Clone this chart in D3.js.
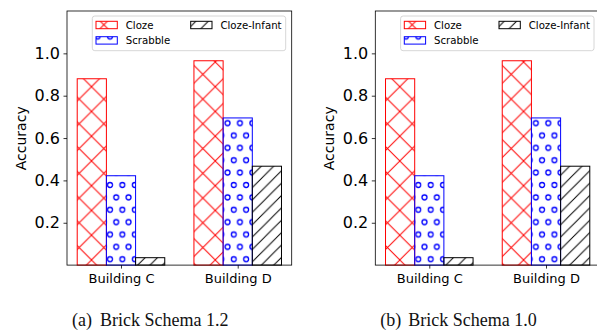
<!DOCTYPE html>
<html>
<head>
<meta charset="utf-8">
<script src="https://cdn.jsdelivr.net/npm/d3@7"></script>
<style>
  body { margin: 0; background: #fff; }
  svg { display: block; }
</style>
</head>
<body>
<script>
// categories and series
var buildings = ["Building C", "Building D"];
var seriesNames = ["Cloze", "Scrabble", "Cloze-Infant"];
// panel (a) Brick Schema 1.2
var clozeA = [0.880, 0.965];
var scrabbleA = [0.422, 0.695];
var infantA = [0.035, 0.467];
// panel (b) Brick Schema 1.0
var clozeB = [0.880, 0.965];
var scrabbleB = [0.422, 0.695];
var infantB = [0.035, 0.467];
var yTicks = [0.2, 0.4, 0.6, 0.8, 1.0];
var captions = [["(a)", "Brick Schema 1.2"], ["(b)", "Brick Schema 1.0"]];

var W = 597, H = 331;
var svg = d3.select("body").append("svg")
  .attr("width", W).attr("height", H);

var defs = svg.append("defs");
var d = 24.75; // hatch spacing

// 'x' hatch (Cloze)
var pc = defs.append("pattern").attr("id", "hx")
  .attr("patternUnits", "userSpaceOnUse")
  .attr("width", d).attr("height", d)
  .attr("x", 17.25).attr("y", 12.45);
pc.append("path")
  .attr("d", "M-1,-1L" + (d + 1) + "," + (d + 1) + "M-1," + (d + 1) + "L" + (d + 1) + ",-1")
  .attr("stroke", "#ff0000").attr("stroke-width", 1).attr("fill", "none");

// 'o' hatch (Scrabble)
var pd = defs.append("pattern").attr("id", "ho")
  .attr("patternUnits", "userSpaceOnUse")
  .attr("width", d / 2).attr("height", d)
  .attr("x", 11).attr("y", 11.75);
[[0, 0], [d / 2, 0], [0, d], [d / 2, d], [d / 4, d / 2]].forEach(function(p) {
  pd.append("circle").attr("cx", p[0]).attr("cy", p[1]).attr("r", 2.45)
    .attr("fill", "none").attr("stroke", "#0000ff").attr("stroke-width", 1.3);
});

// '//' hatch (Cloze-Infant)
var s = d / 2;
var ps = defs.append("pattern").attr("id", "hs")
  .attr("patternUnits", "userSpaceOnUse")
  .attr("width", s).attr("height", s)
  .attr("x", 6.75).attr("y", 0);
ps.append("path")
  .attr("d", "M0," + s + "L" + s + ",0M-1,1L1,-1M" + (s - 1) + "," + (s + 1) + "L" + (s + 1) + "," + (s - 1))
  .attr("stroke", "#000").attr("stroke-width", 1).attr("fill", "none");

var fills = ["url(#hx)", "url(#ho)", "url(#hs)"];
var edges = ["#ff0000", "#0000ff", "#000000"];

var plotL = 67, plotR = 291.7, plotT = 11, plotB = 265.1;
var barW = 0.25;

var x = d3.scaleLinear().domain([-0.4625, 1.4625]).range([plotL, plotR]);
var y = d3.scaleLinear().domain([0, 1.2]).range([plotB, plotT]);

function drawPanel(offset, series, cap) {
  var g = svg.append("g").attr("transform", "translate(" + offset + ",0)");

  // bars
  series.forEach(function(vals, si) {
    g.selectAll(".bar" + si)
      .data(vals)
      .enter()
      .append("rect")
      .attr("class", "bar" + si)
      .attr("x", function(v, i) { return x(i + (si - 1) * barW - barW / 2); })
      .attr("width", function() { return x(barW) - x(0); })
      .attr("y", function(v) { return y(v); })
      .attr("height", function(v) { return y(0) - y(v); })
      .attr("fill", fills[si])
      .attr("stroke", edges[si])
      .attr("stroke-width", 1);
  });

  // y axis
  var ya = g.append("g").attr("transform", "translate(" + plotL + ",0)")
    .call(d3.axisLeft(y).tickValues(yTicks).tickFormat(d3.format(".1f"))
      .tickSizeInner(3.5).tickSizeOuter(0).tickPadding(3.5));
  ya.select(".domain").remove();
  ya.selectAll("text").attr("font-family", "DejaVu Sans").attr("font-size", 16).attr("fill", "#000");
  ya.selectAll("line").attr("stroke", "#000").attr("stroke-width", 0.8);

  // x axis
  var xa = g.append("g").attr("transform", "translate(0," + plotB + ")")
    .call(d3.axisBottom(x).tickValues([0, 1]).tickFormat(function(v) { return buildings[v]; })
      .tickSizeInner(3.5).tickSizeOuter(0).tickPadding(4.8));
  xa.select(".domain").remove();
  xa.selectAll("text").attr("font-family", "DejaVu Sans").attr("font-size", 13).attr("fill", "#000");
  xa.selectAll("line").attr("stroke", "#000").attr("stroke-width", 0.8);

  // frame
  g.append("rect").attr("x", plotL).attr("y", plotT)
    .attr("width", plotR - plotL).attr("height", plotB - plotT)
    .attr("fill", "none").attr("stroke", "#000").attr("stroke-width", 0.8);

  // y label
  g.append("text")
    .attr("transform", "translate(26,138.3) rotate(-90)")
    .attr("text-anchor", "middle")
    .attr("font-family", "DejaVu Sans").attr("font-size", 14)
    .text("Accuracy");

  // legend
  var lg = g.append("g");
  lg.append("rect").attr("x", 92.3).attr("y", 16).attr("width", 193.4).attr("height", 34.7)
    .attr("rx", 2.5).attr("fill", "#fff").attr("fill-opacity", 0.8)
    .attr("stroke", "#cccccc").attr("stroke-width", 0.8);
  var legPos = [[96, 21.3], [96, 36.7], [190.7, 21.3]];
  seriesNames.forEach(function(name, si) {
    lg.append("rect").attr("x", legPos[si][0]).attr("y", legPos[si][1])
      .attr("width", 21.3).attr("height", 7.4)
      .attr("fill", fills[si]).attr("stroke", edges[si]).attr("stroke-width", 1);
    lg.append("text").attr("x", legPos[si][0] + 29.7).attr("y", legPos[si][1] + 7.3)
      .attr("font-family", "DejaVu Sans").attr("font-size", 10.2)
      .text(name);
  });

  // caption
  var ct = g.append("text").attr("y", 326)
    .attr("font-family", "Liberation Serif").attr("font-size", 18).attr("fill", "#111");
  ct.append("tspan").attr("x", 72).text(cap[0]);
  ct.append("tspan").attr("x", 100).text(cap[1]);
}

drawPanel(0, [clozeA, scrabbleA, infantA], captions[0]);
drawPanel(308.3, [clozeB, scrabbleB, infantB], captions[1]);
</script>
</body>
</html>
